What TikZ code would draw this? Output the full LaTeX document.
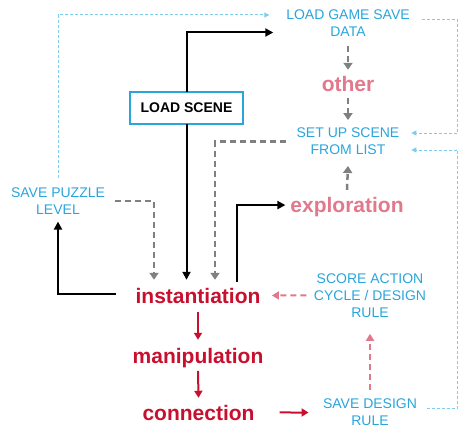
\documentclass[tikz,border=0pt]{standalone}
\usepackage{fontspec}
\setmainfont{Liberation Sans}
\usetikzlibrary{arrows.meta}
\definecolor{txtcyan}{RGB}{41,165,220}
\definecolor{dotcyan}{RGB}{125,205,238}
\definecolor{pinkish}{RGB}{226,120,140}
\definecolor{crimson}{RGB}{200,16,46}
\definecolor{graydash}{RGB}{128,128,128}
\begin{document}
\begin{tikzpicture}[x=1pt,y=-1pt,
  every node/.style={inner sep=0pt, outer sep=0pt},
  cyantext/.style={text=txtcyan, font=\fontsize{14}{17}\selectfont, align=center},
  boldred/.style={text=crimson, font=\fontsize{21}{25}\selectfont\bfseries, anchor=base},
  boldpink/.style={text=pinkish, font=\fontsize{21}{25}\selectfont\bfseries, anchor=base},
  scenebox/.style={draw=txtcyan, line width=2pt, minimum width=113pt, minimum height=32pt, font=\fontsize{14}{17}\selectfont\bfseries},
  blackarrow/.style={line width=2pt, -{Triangle[length=8pt,width=8pt]}},
  redarrow/.style={crimson, line width=2pt, -{Triangle[length=7pt,width=8pt]}},
  grayarrow/.style={graydash, line width=2.5pt, dash pattern=on 6pt off 4pt, -{Triangle[length=7pt,width=9pt]}},
  pinkarrow/.style={pinkish, line width=2pt, dash pattern=on 6pt off 4pt, -{Triangle[length=7pt,width=8pt]}},
  cyandotted/.style={dotcyan, line width=1pt, dash pattern=on 3pt off 2pt, -{Triangle[length=5pt,width=5pt]}},
]
\useasboundingbox (0,0) rectangle (474,436);

% nodes
\node[cyantext] (lgsd) at (348,23.5) {LOAD GAME SAVE\\DATA};
\node[boldpink] (other) at (348,92) {other};
\node[cyantext] (setup) at (348,141.5) {SET UP SCENE\\FROM LIST};
\node[boldpink] (explor) at (347,212) {exploration};
\node[scenebox] (loadscene) at (186.5,108) {LOAD SCENE};
\node[cyantext] (savepuzzle) at (58,201.2) {SAVE PUZZLE\\LEVEL};
\node[boldred] (inst) at (198,303) {instantiation};
\node[boldred] (manip) at (198,363) {manipulation};
\node[boldred] (conn) at (198.5,420) {connection};
\node[cyantext] (savedesign) at (370,412.5) {SAVE DESIGN\\RULE};
\node[cyantext] (score) at (370,295.3) {SCORE ACTION\\CYCLE / DESIGN\\RULE};

% cyan dotted
\draw[cyandotted] ([yshift=10pt]savepuzzle.north) |- ([xshift=-17pt,yshift=8.5pt]lgsd.west);
\draw[cyandotted] ([xshift=12pt,yshift=3.5pt]lgsd.east) -- ++(36,0) |- ([xshift=12pt,yshift=8.5pt]setup.east);
\draw[cyandotted] ([xshift=10pt,yshift=4.5pt]savedesign.east) -- ++(31,0) |- ([xshift=12pt,yshift=-8.5pt]setup.east);

% black
\draw[blackarrow] (loadscene.north) |- ([xshift=-13pt,yshift=-9pt]lgsd.west);
\draw[blackarrow] (loadscene.south) -- ([xshift=-11.5pt,yshift=8pt]inst.north);
\draw[blackarrow] ([xshift=39pt,yshift=6pt]inst.north) |- ([xshift=-5pt,yshift=1.5pt]explor.west);
\draw[blackarrow] ([xshift=-20pt,yshift=1pt]inst.west) -| ([yshift=-7pt]savepuzzle.south);

% gray dashed
\draw[grayarrow] ([yshift=-9pt]lgsd.south) -- ([yshift=7pt]other.north);
\draw[grayarrow] ([yshift=-6pt]other.south) -- ([yshift=8pt]setup.north);
\draw[grayarrow] ([yshift=7pt]explor.north) -- ([yshift=-11pt]setup.south);
\draw[grayarrow] ([xshift=-11pt]setup.west) -| ([xshift=17pt,yshift=8pt]inst.north);
\draw[grayarrow] ([xshift=10pt]savepuzzle.east) -| ([xshift=-44pt,yshift=8pt]inst.north);

% red
\draw[redarrow] ([yshift=-9pt]inst.south) -- ([yshift=8pt]manip.north);
\draw[redarrow] ([yshift=-3.5pt]manip.south) -- ([yshift=7pt]conn.north);
\draw[redarrow] ([xshift=25pt]conn.east) -- ([xshift=-14.5pt]savedesign.west);

% pink dashed
\draw[pinkarrow] ([yshift=9pt]savedesign.north) -- ([yshift=-16.5pt]score.south);
\draw[pinkarrow] ([xshift=-7.5pt]score.west) -- ([xshift=11.5pt]inst.east);
\end{tikzpicture}
\end{document}
